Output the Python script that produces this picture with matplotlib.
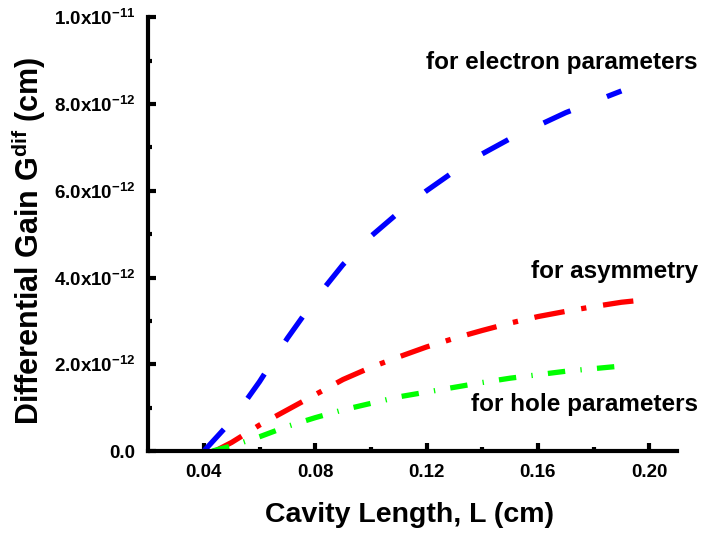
import matplotlib
matplotlib.use("Agg")
import matplotlib.pyplot as plt
from matplotlib.ticker import MultipleLocator, FixedLocator

plt.rcParams['font.family'] = ['Liberation Sans', 'DejaVu Sans']
plt.rcParams['font.weight'] = 'bold'
plt.rcParams['mathtext.fontset'] = 'custom'
plt.rcParams['mathtext.rm'] = 'Liberation Sans:bold'
plt.rcParams['mathtext.it'] = 'Liberation Sans:bold'
plt.rcParams['mathtext.bf'] = 'Liberation Sans:bold'
plt.rcParams['mathtext.default'] = 'rm'

# differential gain vs cavity length (cm)
L_electron = [0.04, 0.05, 0.06, 0.07, 0.08, 0.09, 0.10, 0.11, 0.12, 0.13, 0.14, 0.15, 0.16, 0.17, 0.18, 0.19]
G_electron = [0.0, 0.7, 1.6, 2.6, 3.5, 4.3, 4.95, 5.5, 6.0, 6.45, 6.85, 7.2, 7.5, 7.8, 8.05, 8.3]

L_asym = [0.044, 0.05, 0.06, 0.07, 0.08, 0.09, 0.10, 0.11, 0.12, 0.13, 0.14, 0.15, 0.16, 0.17, 0.18, 0.19, 0.196]
G_asym = [0.0, 0.2, 0.6, 0.95, 1.3, 1.65, 1.93, 2.17, 2.4, 2.6, 2.78, 2.95, 3.1, 3.22, 3.33, 3.43, 3.47]

L_hole = [0.043, 0.05, 0.06, 0.07, 0.08, 0.09, 0.10, 0.11, 0.12, 0.13, 0.14, 0.15, 0.16, 0.17, 0.18, 0.19]
G_hole = [0.0, 0.12, 0.33, 0.57, 0.77, 0.95, 1.1, 1.25, 1.36, 1.47, 1.58, 1.68, 1.76, 1.84, 1.9, 1.96]

scale = 1e-12
y_ticks = [0, 2e-12, 4e-12, 6e-12, 8e-12, 1e-11]
y_labels = ['0.0', '2.0x10$^{-12}$', '4.0x10$^{-12}$', '6.0x10$^{-12}$', '8.0x10$^{-12}$', '1.0x10$^{-11}$']
x_ticks = [0.04, 0.08, 0.12, 0.16, 0.20]
x_labels = ['0.04', '0.08', '0.12', '0.16', '0.20']

fig = plt.figure(figsize=(7.09, 5.37), dpi=100)
ax = fig.add_axes([0.209, 0.160, 0.746, 0.808])

ax.plot(L_electron, [g * scale for g in G_electron], color='#0000ff', lw=3.8,
        dashes=(5.6, 7.4), dash_capstyle='butt')
ax.plot(L_asym, [g * scale for g in G_asym], color='#ff0000', lw=3.8,
        dashes=(5.8, 3.2, 1.0, 3.2), dash_capstyle='butt')
ax.plot(L_hole, [g * scale for g in G_hole], color='#00ff00', lw=3.8,
        dashes=(3.3, 2.9, 0.25, 2.9), dash_capstyle='butt')

ax.set_xlim(0.02, 0.21)
ax.set_ylim(0, 1e-11)
ax.set_xticks(x_ticks)
ax.set_xticklabels(x_labels)
ax.set_yticks(y_ticks)
ax.set_yticklabels(y_labels)
ax.xaxis.set_minor_locator(FixedLocator([0.06, 0.10, 0.14, 0.18]))
ax.yaxis.set_minor_locator(MultipleLocator(1e-12))

for side in ['top', 'right']:
    ax.spines[side].set_visible(False)
for side in ['left', 'bottom']:
    ax.spines[side].set_linewidth(3)

ax.tick_params(which='major', direction='in', length=6, width=3, labelsize=13.5, pad=9)
ax.tick_params(which='minor', direction='in', length=3, width=3)

ax.set_xlabel('Cavity Length, L (cm)', fontsize=20.5, fontweight='bold')
ax.set_ylabel('Differential Gain G$^{dif}$ (cm)', fontsize=22, fontweight='bold')
ax.xaxis.set_label_coords(0.495, -0.117)
ax.yaxis.set_label_coords(-0.19, 0.484)

fig.text(0.984, 0.8845, 'for electron parameters', ha='right', va='center',
         fontsize=17.5, fontweight='bold')
fig.text(0.984, 0.4935, 'for asymmetry', ha='right', va='center',
         fontsize=17.5, fontweight='bold')
fig.text(0.984, 0.246, 'for hole parameters', ha='right', va='center',
         fontsize=17.5, fontweight='bold')

fig.savefig('out.png', dpi=100)
